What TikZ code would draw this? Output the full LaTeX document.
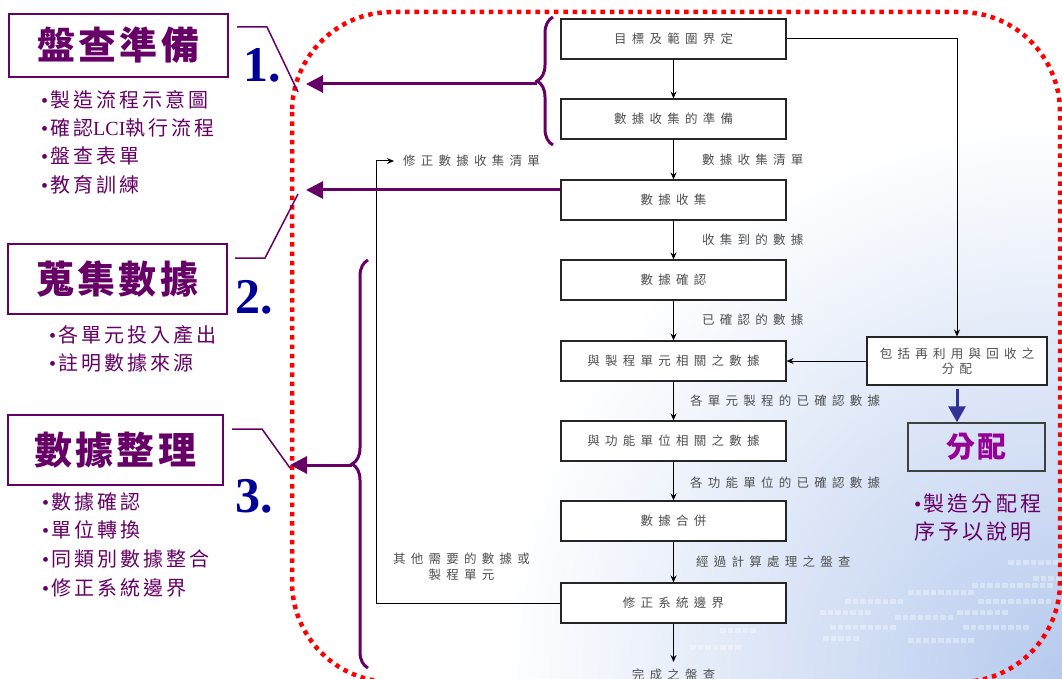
\documentclass[tikz,border=0pt]{standalone}
\usepackage{fontspec}
\setmainfont{Liberation Serif}
\newfontfamily\cjkflow{Noto Sans CJK TC}[LetterSpace=42]
\newfontfamily\cjkbul{Noto Sans CJK TC}[LetterSpace=15]
\newfontfamily\cjkhead{Noto Sans CJK TC}[LetterSpace=8]
\newfontfamily\cjkalloc{Noto Sans CJK TC}[LetterSpace=5]
\usetikzlibrary{arrows.meta,decorations.pathreplacing,calc}

\definecolor{plum}{RGB}{102,0,102}
\definecolor{numblue}{RGB}{0,0,150}
\definecolor{flowgray}{RGB}{80,80,80}
\definecolor{allocmag}{RGB}{150,0,150}
\definecolor{arrowblue}{RGB}{50,50,150}
\definecolor{skyblue}{RGB}{182,202,238}

\newcommand\flowfont{\cjkflow\fontsize{12.5}{16}\selectfont}
\newcommand\flowfonttight{\cjkflow\fontsize{12.5}{15}\selectfont}
\newcommand\bulfont{\cjkbul\fontsize{20}{24}\selectfont}
\newcommand\headfont{\cjkhead\bfseries\fontsize{38}{42}\selectfont}
\newcommand\dotmark{{\rmfamily\textbullet}\hspace{2pt}}

\tikzset{
  flowbox/.style={draw=black!85, line width=1.1pt, fill=white,
    minimum width=225pt, minimum height=40pt, inner sep=0pt,
    font=\flowfont, text=flowgray, align=center},
  flowtext/.style={font=\flowfont, text=flowgray, inner sep=0pt, align=center},
  flowarrow/.style={draw=black, line width=1pt, -{Stealth[length=7pt,width=6pt]}},
  headbox/.style={draw=plum, line width=1.8pt, inner sep=0pt, font=\headfont, text=plum},
  bullet/.style={font=\bulfont, text=plum, anchor=west, inner sep=0pt},
  stepnum/.style={font=\fontsize{50}{50}\selectfont\bfseries, text=numblue, inner sep=0pt},
  callout/.style={draw=plum, line width=1.5pt},
  bigarrow/.style={draw=plum, line width=3pt, -{Triangle[length=17pt,width=17pt]}},
  purplebrace/.style={draw=plum, line width=3pt, decorate,
    decoration={brace, amplitude=16pt}},
  glint/.style={fill=white, opacity=0.35},
}

\begin{document}
\begin{tikzpicture}[x=1pt,y=-1pt]
\useasboundingbox (0,0) rectangle (1062,679);

% soft sky tint towards the lower right corner, with rows of pale tiles
\begin{scope}
  \clip (0,0) rectangle (1062,679);
  \fill[white] (0,0) rectangle (1062,679);
  \shade[inner color=skyblue, outer color=white] (1062,679) circle (560pt);
  \foreach \ty/\tx/\tn in {560/1008/7, 576/1033/3, 583/972/10, 590/908/8,
      599/845/7, 599/978/9, 610/820/6, 610/957/6, 615/895/7, 625/830/8,
      625/963/8, 636/823/4, 638/908/8, 612/700/5, 628/720/4, 645/690/6}
    \foreach \ti in {0,...,\tn}
      \fill[glint] (\tx+\ti*7.5,\ty) rectangle ++(5.5,4.5);
\end{scope}

% dotted red frame around the procedure
\draw[red, line width=4.5pt, dash pattern=on 4.5pt off 4.8pt, rounded corners=100pt]
  (292,12) rectangle (1060,682);

% ---- left column: the three stages ----
\node[headbox, minimum width=219pt, minimum height=63pt] (L1) at (118.5,45.5) {盤查準備};
\node[headbox, minimum width=219pt, minimum height=70pt] (L2) at (117.5,279) {蒐集數據};
\node[headbox, minimum width=215pt, minimum height=70pt] (L3) at (115.5,450) {數據整理};

\node[bullet] (b11) at (41,100) {\dotmark 製造流程示意圖};
\node[bullet] (b12) at (41,128) {\dotmark 確認{\rmfamily LCI}執行流程};
\node[bullet] (b13) at (41,156) {\dotmark 盤查表單};
\node[bullet] (b14) at (41,185) {\dotmark 教育訓練};

\node[bullet] (b21) at (49,335) {\dotmark 各單元投入產出};
\node[bullet] (b22) at (49,363) {\dotmark 註明數據來源};

\node[bullet] (b31) at (42,502) {\dotmark 數據確認};
\node[bullet] (b32) at (42,530) {\dotmark 單位轉換};
\node[bullet] (b33) at (42,559) {\dotmark 同類別數據整合};
\node[bullet] (b34) at (42,588) {\dotmark 修正系統邊界};

\node[stepnum] (n1) at (262,65) {1.};
\node[stepnum] (n2) at (254,297) {2.};
\node[stepnum] (n3) at (254,496) {3.};

% callout strokes beside the stage numbers
\coordinate (c1a) at (237,27);  \coordinate (c1b) at (267,27);  \coordinate (c1c) at (298,92);
\coordinate (c2a) at (235,258); \coordinate (c2b) at (265,258); \coordinate (c2c) at (298,194);
\coordinate (c3a) at (232,429); \coordinate (c3b) at (262,429); \coordinate (c3c) at (290,468);
\draw[callout] (c1a) -- (c1b) -- (c1c);
\draw[callout] (c2a) -- (c2b) -- (c2c);
\draw[callout] (c3a) -- (c3b) -- (c3c);

% ---- flow chart ----
\node[flowbox] (f1) at (673.5,39)  {目標及範圍界定};
\node[flowbox] (f2) at (673.5,119) {數據收集的準備};
\node[flowbox] (f3) at (673.5,200) {數據收集};
\node[flowbox] (f4) at (673.5,280) {數據確認};
\node[flowbox] (f5) at (673.5,361) {與製程單元相關之數據};
\node[flowbox] (f6) at (673.5,441) {與功能單位相關之數據};
\node[flowbox] (f7) at (673.5,521) {數據合併};
\node[flowbox] (f8) at (673.5,603) {修正系統邊界};
\coordinate (done) at (673.5,662);
\node[flowtext, anchor=north] (donelbl) at (673.5,669) {完成之盤查};

\draw[flowarrow] (f1) -- (f2);
\draw[flowarrow] (f2) -- (f3);
\draw[flowarrow] (f3) -- (f4);
\draw[flowarrow] (f4) -- (f5);
\draw[flowarrow] (f5) -- (f6);
\draw[flowarrow] (f6) -- (f7);
\draw[flowarrow] (f7) -- (f8);
\draw[flowarrow] (f8) -- (done);

\node[flowtext, anchor=west] (l23) at (702,160) {數據收集清單};
\node[flowtext, anchor=west] (l34) at (702,240) {收集到的數據};
\node[flowtext, anchor=west] (l45) at (702,320) {已確認的數據};
\node[flowtext, anchor=west] (l56) at (690,401) {各單元製程的已確認數據};
\node[flowtext, anchor=west] (l67) at (690,483) {各功能單位的已確認數據};
\node[flowtext, anchor=west] (l78) at (696,562) {經過計算處理之盤查};

% feedback loop for missing data
\coordinate (fbA) at (376,603);
\coordinate (fbB) at (376,161);
\coordinate (fbtip) at (394,161);
\draw[flowarrow] (f8.west) -- (fbA) -- (fbB) -- (fbtip);
\node[flowtext, anchor=west] (lfb) at (403,161) {修正數據收集清單};
\node[flowtext] (lother) at (461.5,567) {其他需要的數據或\\製程單元};

% allocation branch
\node[flowbox, minimum width=180pt, minimum height=48pt, font=\flowfonttight] (r1) at (957,361) {包括再利用與回收之\\分配};
\draw[flowarrow] (f1.east) -| (r1.north);
\draw[flowarrow] (r1.west) -- (f5.east);

\node[draw=black!75, line width=1.5pt, minimum width=137pt, minimum height=48pt, inner sep=0pt,
      font=\cjkalloc\bfseries\fontsize{29}{32}\selectfont, text=allocmag] (alloc) at (976.5,447) {分配};
\draw[draw=arrowblue, line width=3pt, -{Triangle[length=16pt,width=17pt]}]
  ([yshift=-3pt]r1.south) -- (r1.south |- alloc.north);

\node[font=\cjkbul\fontsize{21}{28}\selectfont, text=plum, align=left, anchor=west, inner sep=0pt]
  (allocnote) at (914,518) {\dotmark 製造分配程\\序予以說明};

% ---- braces and stage arrows ----
\draw[purplebrace] (553,145) -- (553,17);
\coordinate (br1) at (537,84);
\coordinate (t1) at (306,84);
\draw[bigarrow] (br1) -- (t1);

\coordinate (t2) at (306,190);
\draw[bigarrow] ([yshift=10pt]f3.west) -- (t2);

\draw[purplebrace] (368,668) -- (368,260);
\coordinate (br2) at (352,465);
\coordinate (t3) at (290,465);
\draw[bigarrow] (br2) -- (t3);

\end{tikzpicture}
\end{document}
